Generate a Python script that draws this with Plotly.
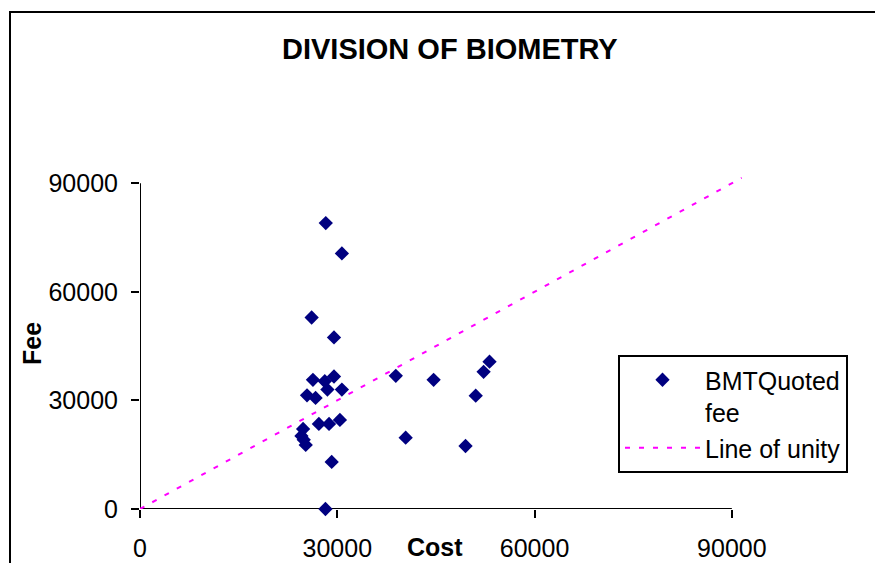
import plotly.graph_objects as go

# Data
cost = [28250, 30700, 26100, 29500, 26300, 28100, 29500, 28500, 30700,
        25400, 26700, 27200, 28750, 30400, 24800, 24550, 24900, 25200,
        29150, 28200, 38900, 44650, 53150, 52250, 51050, 40400, 49500]
fee = [79000, 70600, 52900, 47400, 35700, 35300, 36600, 33000, 33000,
       31400, 30700, 23500, 23500, 24600, 22100, 20200, 19100, 17700,
       13000, 0, 36800, 35700, 40700, 37900, 31300, 19700, 17400]
unity_x = [0, 91500]
unity_y = [0, 91500]
tick_vals = [0, 30000, 60000, 90000]
tick_text = ["0", "30000", "60000", "90000"]

FONT = "Liberation Sans, Arial, sans-serif"
W, H = 875, 563
L, R, T, B = 140, 130, 176, 54
pw, ph = W - L - R, H - T - B


def px(xp):
    return (xp - L) / pw


def py(yp):
    return (H - B - yp) / ph


fig = go.Figure()
fig.add_trace(go.Scatter(
    x=cost, y=fee, mode="markers", name="BMTQuoted<br>fee",
    marker=dict(symbol="diamond", size=11, color="#000080"),
    cliponaxis=False,
))
fig.add_trace(go.Scatter(
    x=unity_x, y=unity_y, mode="lines", name="Line of unity",
    line=dict(color="#FF00FF", width=2, dash="5px,9px"),
))

fig.update_layout(
    width=W, height=H,
    margin=dict(l=L, r=R, t=T, b=B, autoexpand=False),
    paper_bgcolor="white", plot_bgcolor="white",
    font=dict(family=FONT, size=25, color="black"),
    showlegend=True,
    legend=dict(
        x=px(618), y=py(355), xref="paper", yref="paper",
        xanchor="left", yanchor="top",
        bordercolor="black", borderwidth=2, bgcolor="white",
        font=dict(size=25), valign="top", itemwidth=75,
        tracegroupgap=0,
    ),
    xaxis=dict(
        range=[0, 92000], showgrid=False, zeroline=False, showline=False,
        tickmode="array", tickvals=tick_vals, ticktext=tick_text,
        ticks="outside", ticklen=8, tickwidth=2, tickcolor="black",
        ticklabelstandoff=9, automargin=False,
    ),
    yaxis=dict(
        range=[0, 92000], showgrid=False, zeroline=False, showline=False,
        tickmode="array", tickvals=tick_vals, ticktext=tick_text,
        ticks="outside", ticklen=8, tickwidth=2, tickcolor="black",
        ticklabelstandoff=8, automargin=False,
    ),
    shapes=[
        dict(type="line", xref="x", yref="y", x0=0, y0=0, x1=90000, y1=0,
             line=dict(color="black", width=2), layer="below"),
        dict(type="line", xref="x", yref="y", x0=0, y0=0, x1=0, y1=90000,
             line=dict(color="black", width=2), layer="below"),
        dict(type="rect", xref="paper", yref="paper",
             x0=px(10), x1=px(885), y0=py(575), y1=py(12),
             line=dict(color="black", width=2), fillcolor="rgba(0,0,0,0)",
             layer="below"),
    ],
    annotations=[
        dict(text="<b>DIVISION OF BIOMETRY</b>", x=px(450), y=py(49),
             xref="paper", yref="paper", showarrow=False,
             font=dict(size=29), xanchor="center", yanchor="middle"),
        dict(text="<b>Cost</b>", x=px(435), y=py(547), xref="paper", yref="paper",
             showarrow=False, font=dict(size=25), xanchor="center", yanchor="middle"),
        dict(text="<b>Fee</b>", x=px(32), y=py(344), xref="paper", yref="paper",
             showarrow=False, font=dict(size=25), textangle=-90,
             xanchor="center", yanchor="middle"),
    ],
)

fig.write_html("out.html")
